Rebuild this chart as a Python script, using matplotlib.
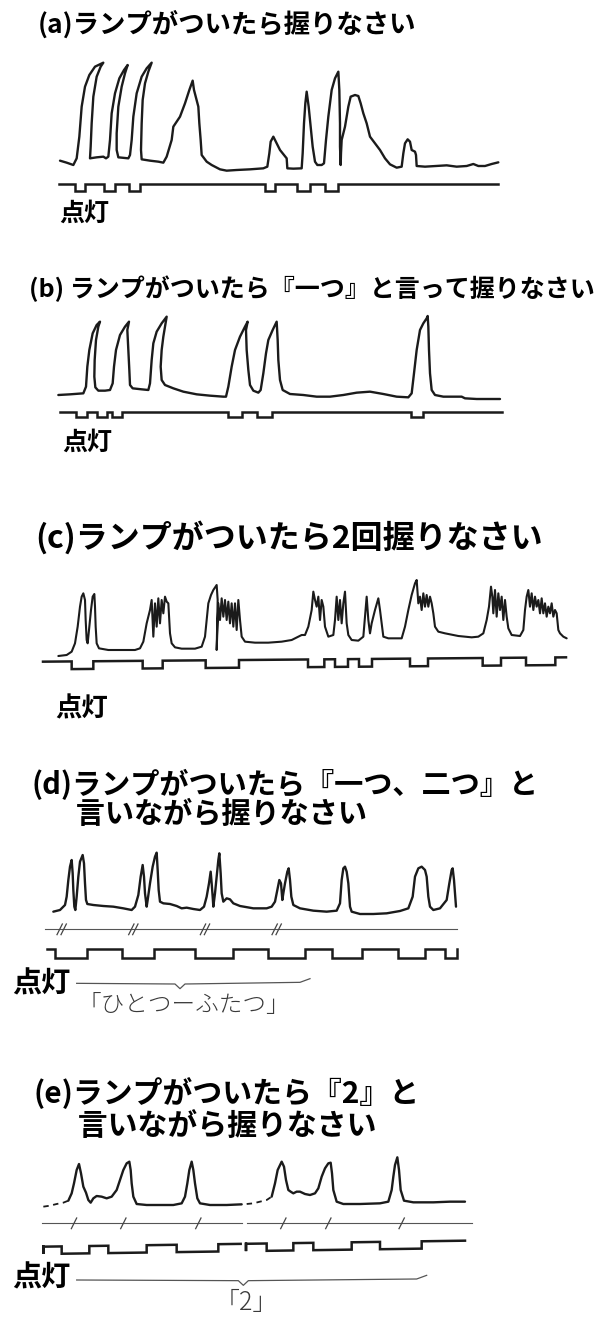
import numpy as np
import matplotlib
matplotlib.use("Agg")
import matplotlib.pyplot as plt

plt.rcParams['font.family'] = ['Noto Sans CJK JP', 'DejaVu Sans']

# grip-pressure traces: (time, amplitude above resting level)
trace_a = [(90, 18), (110, 12), (130, 5), (140, 25), (148, 90), (155, 180), (165, 240), (178, 275),
           (195, 300), (220, 312), (212, 300), (200, 270), (190, 210), (185, 130), (182, 60), (180, 25),
           (200, 28), (220, 30), (228, 25), (235, 30), (240, 80), (245, 160), (255, 220), (268, 265),
           (282, 290), (293, 305), (285, 280), (275, 240), (265, 180), (260, 100), (260, 50), (265, 28),
           (295, 25), (300, 35), (305, 80), (310, 150), (320, 220), (335, 270), (350, 295), (365, 312),
           (355, 285), (345, 250), (338, 200), (335, 130), (333, 50), (335, 22), (360, 18), (385, 15),
           (400, 12), (410, 30), (425, 80), (430, 120), (440, 135), (450, 150), (465, 190), (478, 230),
           (488, 258), (492, 230), (500, 200), (505, 180), (508, 130), (512, 80), (515, 35), (530, 15),
           (545, 5), (570, -8), (590, -12), (620, -10), (660, -8), (700, -5), (712, 0), (718, 40),
           (722, 75), (730, 90), (740, 70), (750, 50), (762, 35), (770, 25), (772, -5), (790, -6),
           (815, -5), (818, 40), (822, 130), (826, 190), (830, 225), (836, 180), (842, 120), (848, 60),
           (855, 15), (862, 5), (875, 5), (882, 10), (888, 80), (895, 150), (905, 230), (915, 265),
           (925, 285), (928, 230), (930, 130), (930, 60), (932, 5), (933, 40), (935, 80), (945, 120),
           (955, 180), (962, 210), (975, 215), (985, 212), (992, 190), (1000, 160), (1010, 130),
           (1020, 90), (1035, 70), (1050, 50), (1065, 25), (1080, 7), (1100, -3), (1115, 0), (1120, 40),
           (1125, 70), (1133, 82), (1140, 75), (1145, 50), (1155, 45), (1158, 35), (1160, 2), (1185, 0),
           (1215, 2), (1250, 4), (1280, 0), (1310, 2), (1330, 8), (1345, 2), (1365, 2), (1385, 8),
           (1405, 13)]
lamp_a = [(135, 165), (222, 255), (297, 330), (705, 735), (800, 840), (885, 925)]

trace_b = [(25, 0), (60, 2), (100, 5), (108, 25), (112, 85), (118, 135), (128, 185), (140, 210),
           (150, 220), (145, 205), (138, 165), (134, 105), (133, 55), (136, 23), (145, 13), (165, 13),
           (180, 15), (188, 35), (192, 85), (198, 135), (210, 180), (225, 205), (237, 220), (232, 195),
           (235, 135), (238, 75), (240, 30), (248, 20), (275, 17), (295, 15), (300, 35), (305, 105),
           (310, 155), (320, 190), (335, 215), (350, 235), (345, 205), (340, 175), (335, 135), (332, 85),
           (335, 45), (345, 30), (370, 20), (400, 10), (440, 2), (480, -2), (520, -5), (528, -5),
           (535, 25), (545, 85), (555, 135), (570, 175), (585, 205), (593, 220), (588, 195), (590, 135),
           (595, 75), (600, 30), (610, 13), (625, 7), (632, 15), (640, 65), (648, 125), (655, 165),
           (668, 195), (680, 220), (683, 165), (685, 105), (690, 45), (698, 15), (720, 3), (760, 0),
           (800, -5), (840, -5), (880, 0), (920, 7), (960, 10), (1000, 3), (1040, -5), (1075, -7),
           (1085, 5), (1092, 65), (1100, 135), (1110, 195), (1120, 215), (1130, 230), (1133, 237),
           (1135, 205), (1137, 135), (1140, 65), (1145, 15), (1155, 0), (1180, -5), (1215, -5),
           (1235, -5), (1245, -10), (1280, -12), (1320, -12), (1350, -12)]
lamp_b = [(78, 110), (140, 172), (185, 215), (535, 575), (622, 665), (1082, 1118)]

trace_c = [(70, 2), (95, 5), (110, 15), (120, 40), (128, 90), (135, 150), (140, 180), (145, 190),
           (150, 170), (152, 110), (155, 50), (158, 40), (162, 80), (168, 140), (173, 180), (178, 188),
           (180, 150), (182, 90), (185, 40), (192, 25), (220, 20), (260, 20), (300, 20), (315, 25),
           (325, 45), (335, 100), (345, 140), (350, 170), (355, 60), (360, 160), (365, 90), (370, 175),
           (375, 100), (380, 170), (385, 130), (390, 180), (395, 165), (400, 160), (405, 70), (410, 40),
           (420, 28), (440, 24), (480, 24), (500, 30), (510, 60), (515, 110), (520, 160), (528, 185),
           (535, 200), (545, 215), (548, 170), (545, 20), (550, 160), (555, 110), (560, 175), (565, 120),
           (570, 170), (575, 110), (580, 165), (585, 100), (590, 160), (595, 90), (600, 160), (605, 80),
           (610, 170), (615, 110), (620, 60), (630, 45), (660, 42), (700, 42), (740, 45), (770, 50),
           (800, 65), (810, 65), (820, 90), (830, 140), (835, 195), (840, 170), (845, 150), (850, 180),
           (855, 110), (860, 170), (865, 150), (870, 90), (880, 60), (895, 65), (900, 110), (905, 180),
           (910, 110), (915, 170), (920, 100), (925, 160), (930, 195), (935, 100), (940, 65), (950, 50),
           (970, 48), (985, 60), (990, 120), (995, 180), (1000, 110), (1005, 70), (1010, 100),
           (1020, 140), (1030, 175), (1035, 140), (1040, 100), (1045, 60), (1060, 55), (1100, 55),
           (1110, 90), (1120, 140), (1130, 185), (1140, 220), (1145, 230), (1150, 160), (1155, 180),
           (1160, 140), (1165, 190), (1170, 150), (1175, 185), (1180, 150), (1185, 180), (1190, 160),
           (1195, 130), (1200, 90), (1210, 75), (1230, 70), (1270, 62), (1310, 58), (1330, 60),
           (1345, 70), (1355, 110), (1362, 150), (1368, 210), (1372, 180), (1375, 130), (1380, 200),
           (1385, 120), (1390, 190), (1395, 140), (1400, 180), (1405, 110), (1410, 170), (1415, 120),
           (1420, 85), (1430, 65), (1455, 62), (1465, 80), (1470, 140), (1475, 180), (1480, 200),
           (1485, 150), (1490, 190), (1495, 140), (1500, 180), (1505, 150), (1510, 170), (1515, 130),
           (1520, 175), (1525, 130), (1530, 160), (1535, 120), (1540, 150), (1545, 130), (1550, 160),
           (1555, 120), (1560, 140), (1565, 130), (1570, 80), (1575, 70), (1585, 60), (1595, 55)]
lamp_c = [(110, 175), (323, 383), (512, 612), (819, 868), (900, 939), (972, 1011), (1125, 1179),
          (1343, 1398), (1473, 1561)]

trace_d = [(160, -5), (180, 0), (195, 15), (200, 40), (205, 90), (210, 130), (215, 150), (218, 110),
           (220, 60), (223, 10), (226, 0), (230, 40), (235, 100), (240, 145), (248, 165), (252, 140),
           (255, 80), (258, 30), (262, 18), (280, 15), (310, 12), (340, 10), (370, 5), (395, 0),
           (405, 10), (415, 45), (422, 100), (428, 135), (432, 100), (435, 50), (440, 10), (443, 30),
           (450, 80), (458, 130), (465, 160), (470, 172), (473, 120), (476, 60), (480, 25), (490, 20),
           (510, 18), (530, 12), (545, 5), (560, 7), (580, 3), (600, 0), (612, 10), (620, 40), (627, 80),
           (632, 115), (635, 80), (638, 40), (640, 10), (645, 50), (650, 100), (655, 150), (658, 170),
           (662, 110), (665, 50), (670, 25), (680, 35), (690, 32), (700, 20), (720, 12), (760, 5),
           (800, 5), (815, 10), (825, 25), (832, 60), (838, 90), (843, 80), (847, 30), (850, 50),
           (855, 80), (862, 115), (866, 125), (870, 90), (874, 40), (880, 15), (900, 5), (940, -2),
           (980, -5), (1010, -2), (1020, 20), (1025, 90), (1030, 125), (1035, 130), (1040, 115),
           (1045, 80), (1050, 10), (1055, -5), (1080, -12), (1120, -12), (1160, -10), (1200, -3),
           (1225, 5), (1238, 40), (1245, 100), (1255, 125), (1265, 130), (1275, 120), (1280, 100),
           (1285, 40), (1290, 10), (1300, 0), (1320, 5), (1340, 30), (1348, 80), (1355, 120),
           (1358, 125), (1362, 90), (1365, 50), (1368, 10)]
lamp_d = [(165, 262), (365, 462), (585, 700), (805, 915), (995, 1085), (1195, 1275), (1335, 1370)]
speech_d = [185, 400, 615, 830]          # "//" marks on the voice line
brace_d = [230, 540, 930]                # start, centre, end

# (e) is recorded in two runs, each with a dashed lead-in
lead_e1 = [(130, -5), (150, -2), (170, 3), (190, 7), (205, 13)]
trace_e1 = [(205, 13), (215, 35), (222, 65), (230, 105), (237, 123), (243, 95), (250, 55), (258, 37),
            (265, 15), (272, 7), (280, 20), (290, 27), (305, 25), (320, 20), (335, 25), (350, 45),
            (360, 75), (370, 105), (380, 125), (388, 130), (392, 105), (395, 65), (400, 25), (410, 3),
            (440, 0), (480, 0), (520, 0), (545, 5), (555, 25), (562, 65), (568, 105), (575, 130),
            (580, 105), (585, 65), (592, 20), (600, 5), (630, 0), (680, 0), (725, 2)]
lead_e2 = [(740, 3), (760, 5), (780, 10), (800, 15), (815, 25)]
trace_e2 = [(815, 25), (825, 65), (833, 105), (845, 130), (852, 115), (858, 75), (865, 45), (872, 40),
            (880, 35), (890, 40), (900, 40), (915, 33), (930, 30), (945, 35), (955, 50), (965, 85),
            (975, 110), (985, 125), (992, 127), (996, 95), (1000, 45), (1010, 10), (1030, 3), (1080, 3),
            (1140, 5), (1165, 10), (1175, 45), (1180, 85), (1185, 120), (1192, 143), (1197, 105),
            (1202, 45), (1212, 13), (1240, 8), (1300, 8), (1350, 10), (1395, 10)]
lamp_e1 = [(130, 130), (185, 268), (325, 440), (530, 655)]
lamp_e2 = [(738, 738), (800, 880), (940, 1055), (1140, 1265)]
speech_e = [222, 370, 595, 850, 985, 1205]   # "/" marks on the voice line
brace_e = [230, 730, 1280]

W, H = 602, 1320
INK = '#1b1b1b'

fig = plt.figure(figsize=(W / 100, H / 100), dpi=100)
fig.patch.set_facecolor('white')


def panel(x, y, w, h, xmax, ymin, ymax):
    ax = fig.add_axes([x / W, 1 - (y + h) / H, w / W, h / H])
    ax.set_xlim(0, xmax)
    ax.set_ylim(ymin, ymax)
    ax.set_axis_off()
    ax.patch.set_alpha(0)
    return ax


def put_text(x, y, s, size, **kw):
    opts = dict(fontsize=size, va='center', ha='left')
    opts.update(kw)
    fig.text(x / W, 1 - y / H, s, **opts)


def trace(ax, pts, **kw):
    t, a = zip(*pts)
    opts = dict(color=INK, lw=1.7, solid_joinstyle='round', solid_capstyle='round')
    opts.update(kw)
    ax.plot(t, a, **opts)


def lamp(ax, t0, t1, on, high, low, slope=0.0, ref=None):
    xs, lv = [t0], [high]
    for a, b in on:
        xs += [a, a, b, b]
        lv += [high, low, low, high]
    xs.append(t1)
    lv.append(high)
    xs = np.array(xs, float)
    lv = np.array(lv, float) + slope * (xs - (t0 if ref is None else ref))
    ax.plot(xs, lv, color=INK, lw=1.8, solid_joinstyle='miter')


def voice_line(ax, t0, t1, level, marks, double):
    ax.plot([t0, t1], [level, level], color='#555555', lw=0.8)
    for m in marks:
        for off in ([-6, 6] if double else [0]):
            ax.plot([m + off - 8, m + off + 8], [level - 16, level + 16], color='#444444', lw=0.9)


def brace(ax, span, level, label, size):
    s, c, e = span
    xs = [s, c - 15, c, c + 15, e - 30, e]
    ys = [level, level - 2, level - 16, level - 2, level + 3, level + 14]
    ax.plot(xs, ys, color='#555555', lw=0.9)
    ax.text(c + 10, level - 68, label, fontsize=size, color='#3a3a3a', ha='center', va='center',
            fontweight='light')


# (a)
put_text(38, 25, '(a)ランプがついたら握りなさい', 19, fontweight='bold')
ax = panel(30, 40, 480, 200, 1440, -220, 380)
trace(ax, trace_a)
lamp(ax, 88, 1405, lamp_a, -52, -72)
put_text(59, 214, '点灯', 18, fontweight='bold')

# (b)
put_text(29, 289, '(b) ランプがついたら『一つ』と言って握りなさい', 18, fontweight='bold')
ax = panel(50, 300, 500, 160, 1500, -195, 285)
trace(ax, trace_b)
lamp(ax, 30, 1355, lamp_b, -50, -67)
put_text(62, 443, '点灯', 18, fontweight='bold')

# (c)
put_text(35, 538, '(c)ランプがついたら2回握りなさい', 23, fontweight='bold')
ax = panel(35, 570, 540, 130, 1620, -130, 260)
trace(ax, trace_c, lw=1.5)
lamp(ax, 24, 1593, lamp_c, -15, -38, slope=0.0083)
put_text(55, 709, '点灯', 19, fontweight='bold')

# (d) two-line heading, second line indented
put_text(32, 799, '(d)ランプがついたら『一つ、二つ』と\n\u3000\u2002言いながら握りなさい', 21,
         fontweight='bold', linespacing=0.95)
ax = panel(0, 840, 470, 185, 1410, -345, 210)
trace(ax, trace_d)
voice_line(ax, 135, 1370, -58, speech_d, True)
lamp(ax, 140, 1370, lamp_d, -118, -145)
brace(ax, brace_d, -220, '「ひとつーふたつ」', 17)
put_text(12, 983, '点灯', 21, fontweight='bold')

# (e)
put_text(33, 1109, '(e)ランプがついたら『2』と\n\u3000\u2002言いながら握りなさい', 21.5,
         fontweight='bold', linespacing=1.1)
ax = panel(0, 1050, 480, 270, 1440, -345, 465)
trace(ax, lead_e1, lw=1.3, linestyle=(0, (3, 2.5)))
trace(ax, trace_e1)
trace(ax, lead_e2, lw=1.3, linestyle=(0, (3, 2.5)))
trace(ax, trace_e2)
voice_line(ax, 125, 725, -55, speech_e[:3], False)
voice_line(ax, 740, 1415, -55, speech_e[3:], False)
lamp(ax, 130, 722, lamp_e1, -125, -147, slope=0.0142, ref=130)
lamp(ax, 738, 1395, lamp_e2, -125, -147, slope=0.0142, ref=130)
brace(ax, brace_e, -225, '「2」', 18)
put_text(12, 1277, '点灯', 21, fontweight='bold')

fig.savefig('out.png', dpi=100, facecolor='white')
